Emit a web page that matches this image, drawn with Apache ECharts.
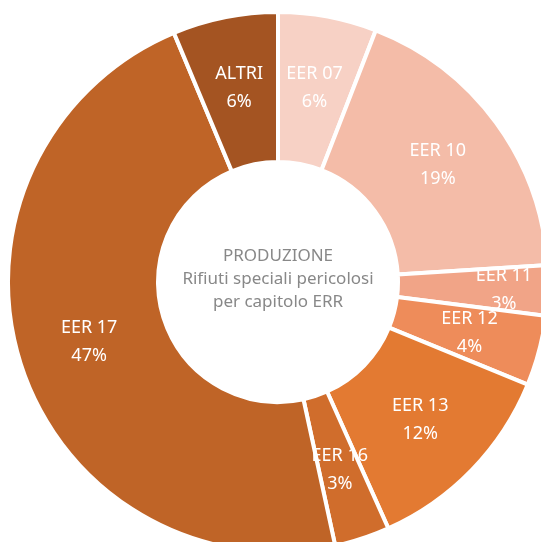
<!DOCTYPE html>
<html>
<head>
<meta charset="utf-8">
<script src="https://cdn.jsdelivr.net/npm/echarts@6/dist/echarts.min.js"></script>
<style>
    html, body { margin: 0; padding: 0; background: #fff; }
    #chart { width: 541px; height: 542px; }
</style>
</head>
<body>
<div id="chart"></div>
<script>
var categories = ['EER 07', 'EER 10', 'EER 11', 'EER 12', 'EER 13', 'EER 16', 'EER 17', 'ALTRI'];
var values = [5.9, 18.1, 3.0, 4.2, 12.1, 3.3, 47.1, 6.3];
var percentLabels = ['6%', '19%', '3%', '4%', '12%', '3%', '47%', '6%'];
var colors = ['#F7D1C5', '#F4BCA8', '#F1A487', '#EE8C5A', '#E37A32', '#D06D2C', '#BF6427', '#A45422'];

var centerTitle = ['PRODUZIONE', 'Rifiuti speciali pericolosi', 'per capitolo ERR'];

var myChart = echarts.init(document.getElementById('chart'));

var data = categories.map(function (name, i) {
    var item = {
        name: name,
        value: values[i],
        itemStyle: { color: colors[i] },
        label: { formatter: name + '\n' + percentLabels[i] }
    };
    if (name === 'EER 11') {
        item.label.offset = [28, 2]; //etichetta spostata verso l'esterno come nell'originale
    }
    return item;
});

var option = {
    animation: false,
    backgroundColor: '#fff',
    graphic: [{
        type: 'text',
        x: 278,
        y: 279,
        style: {
            text: centerTitle.join('\n'),
            align: 'center',
            verticalAlign: 'middle',
            fill: '#888888',
            font: '17px "Noto Sans"',
            lineHeight: 23
        }
    }],
    series: [{
        type: 'pie',
        center: [278, 282],
        radius: [120, 270],
        startAngle: 90,
        clockwise: true,
        avoidLabelOverlap: false,
        minShowLabelAngle: 0,
        labelLayout: { hideOverlap: false },
        itemStyle: {
            borderColor: '#fff',
            borderWidth: 4
        },
        label: {
            show: true,
            position: 'inside',
            color: '#fff',
            fontFamily: 'Noto Sans',
            fontSize: 18,
            lineHeight: 28
        },
        labelLine: { show: false },
        emphasis: { disabled: true },
        data: data
    }]
};

myChart.setOption(option);
</script>
</body>
</html>
